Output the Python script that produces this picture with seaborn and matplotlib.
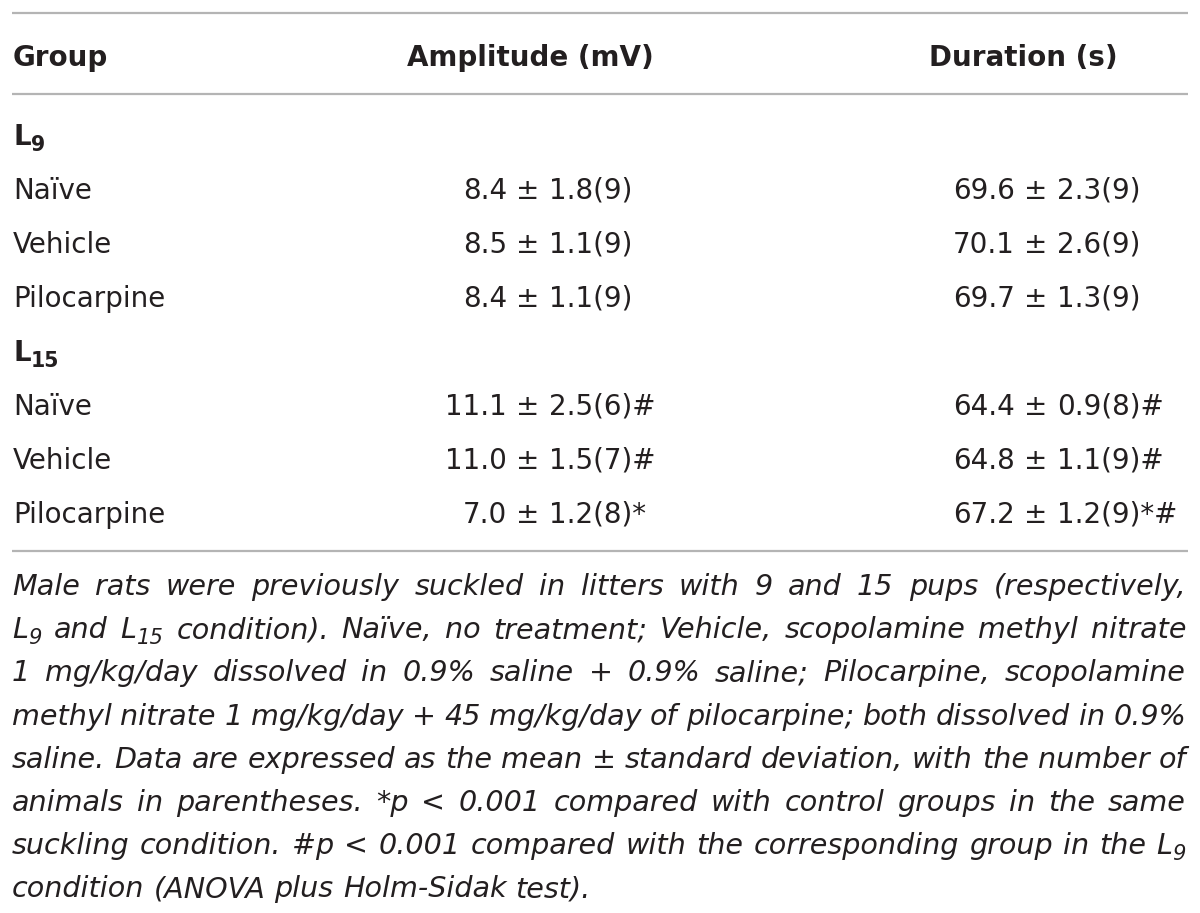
import re
import matplotlib
matplotlib.use("Agg")
import matplotlib.pyplot as plt
import seaborn as sns

sns.set_theme(style="white")
plt.rcParams['font.family'] = ['DejaVu Sans']

# ---------------- data ----------------
col_headers = ["Group", "Amplitude (mV)", "Duration (s)"]
litters = ["9", "15"]
groups = ["Naïve", "Vehicle", "Pilocarpine"]
amp_mean = [8.4, 8.5, 8.4, 11.1, 11.0, 7.0]
amp_sd = [1.8, 1.1, 1.1, 2.5, 1.5, 1.2]
amp_n = [9, 9, 9, 6, 7, 8]
amp_flag = ["", "", "", "#", "#", "*"]
dur_mean = [69.6, 70.1, 69.7, 64.4, 64.8, 67.2]
dur_sd = [2.3, 2.6, 1.3, 0.9, 1.1, 1.2]
dur_n = [9, 9, 9, 8, 9, 9]
dur_flag = ["", "", "", "#", "#", "*#"]
footnote_lines = [
    "Male rats were previously suckled in litters with 9 and 15 pups (respectively,",
    "L_{9} and L_{15} condition). Naïve, no treatment; Vehicle, scopolamine methyl nitrate",
    "1 mg/kg/day dissolved in 0.9% saline + 0.9% saline; Pilocarpine, scopolamine",
    "methyl nitrate 1 mg/kg/day + 45 mg/kg/day of pilocarpine; both dissolved in 0.9%",
    "saline. Data are expressed as the mean ± standard deviation, with the number of",
    "animals in parentheses. *p < 0.001 compared with control groups in the same",
    "suckling condition. #p < 0.001 compared with the corresponding group in the L_{9}",
    "condition (ANOVA plus Holm-Sidak test).",
]

# ---------------- layout ----------------
TXT = "#231f20"
RULE = "#b4b4b4"
FS = 20
FN_FS = 20.6
W, H = 1200, 913
fig = plt.figure(figsize=(12, 9.13), dpi=100)
ax = fig.add_axes([0, 0, 1, 1])
ax.set_xlim(0, W)
ax.set_ylim(H, 0)
ax.axis("off")
sns.despine(ax=ax, left=True, bottom=True)
renderer = fig.canvas.get_renderer()


def text_width(s, **kw):
    t = ax.text(0, 0, s, **kw)
    w = t.get_window_extent(renderer).width
    t.remove()
    return w


def space_width(**kw):
    return text_width("a a", **kw) - text_width("aa", **kw)


def parse_word(word):
    parts = re.split(r"_\{(.*?)\}", word)
    segs = []
    for i, p in enumerate(parts):
        if p:
            segs.append((p, i % 2 == 1))
    return segs


def seg_props(base, sub):
    kw = dict(base)
    if sub:
        kw["fontsize"] = base["fontsize"] * 0.74
    return kw


def word_width(segs, base):
    return sum(text_width(s, **seg_props(base, sub)) for s, sub in segs)


def draw_word(x, y, segs, base):
    for s, sub in segs:
        kw = seg_props(base, sub)
        dy = base["fontsize"] * 0.30 if sub else 0
        ax.text(x, y + dy, s, ha="left", va="baseline", **kw)
        x += text_width(s, **kw)
    return x


# rules
for yy in (13, 94, 551):
    ax.plot([12, 1188], [yy, yy], color=RULE, lw=1.6, solid_capstyle="butt")

# header
hdr = dict(fontsize=FS, fontweight="bold", color=TXT)
ax.text(13, 66, col_headers[0], ha="left", va="baseline", **hdr)
ax.text(530, 66, col_headers[1], ha="center", va="baseline", **hdr)
ax.text(1023, 66, col_headers[2], ha="center", va="baseline", **hdr)

body = dict(fontsize=FS, color=TXT)
pm_x = {"amp": 528, "dur": 1036}
gap = 21
row_base = 145
row_step = 54
r = 0
for li, lit in enumerate(litters):
    y = row_base + r * row_step
    draw_word(13, y, [("L", False), (lit, True)], hdr)
    r += 1
    for gi, g in enumerate(groups):
        k = li * len(groups) + gi
        y = row_base + r * row_step
        ax.text(13, y, g, ha="left", va="baseline", **body)
        for key, m, sd, n, fl in (("amp", amp_mean[k], amp_sd[k], amp_n[k], amp_flag[k]),
                                  ("dur", dur_mean[k], dur_sd[k], dur_n[k], dur_flag[k])):
            cx = pm_x[key]
            ax.text(cx - gap, y, f"{m:.1f}", ha="right", va="baseline", **body)
            ax.text(cx, y, "±", ha="center", va="baseline", **body)
            ax.text(cx + gap, y, f"{sd:.1f}({n}){fl}", ha="left", va="baseline", **body)
        r += 1

# footnote (justified)
fn = dict(fontsize=FN_FS, color=TXT, style="italic")
x0, x1 = 12, 1186
fy0, fstep = 595, 43.2
sp = space_width(**fn)
for i, line in enumerate(footnote_lines):
    words = [parse_word(w) for w in line.split(" ")]
    widths = [word_width(w, fn) for w in words]
    last = i == len(footnote_lines) - 1
    if last or len(words) < 2:
        g = sp
    else:
        g = (x1 - x0 - sum(widths)) / (len(words) - 1)
    x = x0
    y = fy0 + i * fstep
    for w, ww in zip(words, widths):
        draw_word(x, y, w, fn)
        x += ww + g

fig.savefig("out.png", dpi=100)
